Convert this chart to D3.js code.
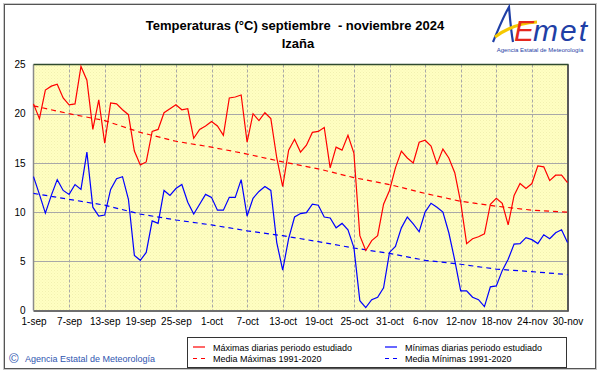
<!DOCTYPE html>
<html>
<head>
<meta charset="utf-8">
<script src="https://cdn.jsdelivr.net/npm/d3@7"></script>
<style>
  body { margin: 0; background: #fff; }
  text { font-family: Arial, "Liberation Sans", sans-serif; }
</style>
</head>
<body>
<div id="chart"></div>
<script>
// daily values, 1-sep .. 30-nov 2024
var maxDaily = [21.0, 19.5, 22.4, 22.8, 23.0, 21.6, 20.9, 21.0, 24.8, 23.4,
  18.4, 21.4, 17.0, 21.1, 21.0, 20.4, 19.9, 16.2, 14.8, 15.1,
  18.2, 18.4, 20.1, 20.5, 20.9, 20.4, 20.5, 17.5, 18.4, 18.75,
  19.2, 18.75, 17.8, 21.6, 21.7, 21.9, 17.1, 20.0, 19.3, 20.1,
  19.5, 15.5, 12.6, 16.3, 17.4, 16.1, 16.8, 18.1, 18.2, 18.6,
  14.5, 16.6, 16.3, 17.8, 16.0, 7.6, 6.1, 7.1, 7.6, 10.8,
  12.2, 14.5, 16.2, 15.5, 15.0, 17.1, 17.3, 16.7, 14.9, 16.4,
  15.5, 14.0, 11.0, 6.8, 7.3, 7.5, 7.8, 10.8, 11.4, 10.9,
  8.7, 11.7, 12.9, 12.4, 12.9, 14.7, 14.6, 13.2, 13.75, 13.75,
  13.0];
var minDaily = [13.6, 11.8, 9.9, 11.7, 13.3, 12.2, 11.8, 12.8, 12.3, 16.1,
  10.5, 9.6, 9.7, 12.3, 13.4, 13.6, 11.3, 5.6, 5.1, 5.9,
  9.1, 8.85, 12.2, 11.7, 12.4, 12.8, 11.0, 9.8, 10.8, 11.8,
  11.5, 10.2, 10.2, 11.5, 11.5, 13.3, 9.6, 11.4, 12.1, 12.6,
  12.2, 6.9, 4.1, 7.3, 9.5, 9.85, 9.95, 10.8, 10.7, 9.5,
  9.4, 8.4, 8.85, 8.2, 6.4, 1.0, 0.3, 1.1, 1.35, 2.3,
  5.9, 6.5, 8.4, 9.5, 8.8, 8.0, 10.0, 10.9, 10.5, 10.0,
  7.9, 5.1, 2.0, 2.0, 1.35, 1.1, 0.4, 2.4, 2.5, 4.05,
  5.2, 6.75, 6.8, 7.4, 7.2, 6.8, 7.7, 7.3, 7.9, 8.2,
  6.9];

// 1991-2020 normals, read at every tick date
var tickLabels = ['1-sep', '7-sep', '13-sep', '19-sep', '25-sep', '1-oct', '7-oct', '13-oct',
  '19-oct', '25-oct', '31-oct', '6-nov', '12-nov', '18-nov', '24-nov', '30-nov'];
var meanMax = [20.8, 20.0, 19.3, 18.1, 17.2, 16.6, 15.9, 15.1, 14.4, 13.5, 12.8, 11.9, 11.1, 10.6, 10.2, 10.0];
var meanMin = [11.9, 11.3, 10.7, 9.8, 9.2, 8.7, 8.1, 7.6, 7.0, 6.35, 5.8, 5.1, 4.7, 4.2, 3.95, 3.65];
var yTicks = [0, 5, 10, 15, 20, 25];

var legendItems = [
  { label: 'Máximas diarias periodo estudiado', color: '#ff0000', dash: null },
  { label: 'Mínimas diarias periodo estudiado', color: '#0000ff', dash: null },
  { label: 'Media Máximas 1991-2020', color: '#ff0000', dash: '4,4' },
  { label: 'Media Mínimas 1991-2020', color: '#0000ff', dash: '4,4' }
];

var width = 601, height = 374,
    plot = { left: 33.5, right: 567.5, top: 64.5, bottom: 310.5 };

function dayDate(i) { return new Date(Date.UTC(2024, 8, 1 + i)); }
var tickDates = tickLabels.map(function(d, i) { return dayDate(i * 6); });

var x = d3.scaleUtc()
  .domain([dayDate(0), dayDate(90)])
  .range([plot.left, plot.right]);
var y = d3.scaleLinear()
  .domain([0, 25])
  .range([plot.bottom, plot.top]);

var svg = d3.select('#chart').append('svg')
  .attr('width', width)
  .attr('height', height);

var defs = svg.append('defs');
var pat = defs.append('pattern')
  .attr('id', 'dots')
  .attr('width', 3).attr('height', 3)
  .attr('patternUnits', 'userSpaceOnUse');
pat.append('rect').attr('width', 3).attr('height', 3).attr('fill', '#ffffc2');
pat.append('rect').attr('x', 0).attr('y', 0).attr('width', 1).attr('height', 1).attr('fill', '#f2f0b0');
pat.append('rect').attr('x', 1.5).attr('y', 1.5).attr('width', 1).attr('height', 1).attr('fill', '#f7f5b8');

// outer frame
svg.append('rect')
  .attr('x', 0).attr('y', 0).attr('width', width).attr('height', height)
  .attr('fill', '#fff');
svg.append('rect')
  .attr('x', 4.5).attr('y', 4.5).attr('width', 591).attr('height', 364)
  .attr('fill', 'none').attr('stroke', '#555').attr('stroke-width', 1);
svg.append('rect')
  .attr('x', 3.5).attr('y', 3.5).attr('width', 593).attr('height', 366)
  .attr('fill', 'none').attr('stroke', '#c8c8c8').attr('stroke-width', 1);

// title
svg.append('text')
  .attr('x', 295).attr('y', 30)
  .attr('text-anchor', 'middle')
  .attr('font-size', 13).attr('font-weight', 'bold')
  .style('white-space', 'pre')
  .text('Temperaturas (°C) septiembre  - noviembre 2024');
svg.append('text')
  .attr('x', 298).attr('y', 48)
  .attr('text-anchor', 'middle')
  .attr('font-size', 13).attr('font-weight', 'bold')
  .text('Izaña');

// logo
var logo = svg.append('g').attr('class', 'logo');
logo.append('path')
  .attr('d', 'M493,42 C498,30 503,17 509,7 C510,19 511,31 513,42')
  .attr('fill', 'none').attr('stroke', '#1f3fa6').attr('stroke-width', 2.2);
logo.append('path')
  .attr('d', 'M495,37 C507,28 520,23 537,22')
  .attr('fill', 'none').attr('stroke', '#f5c800').attr('stroke-width', 3.2);
logo.append('text')
  .attr('x', 514).attr('y', 41)
  .attr('font-size', 30).attr('font-style', 'italic')
  .attr('fill', '#e5281e')
  .text('E');
logo.append('text')
  .attr('x', 533).attr('y', 41)
  .attr('font-size', 30).attr('font-style', 'italic')
  .attr('textLength', 54)
  .attr('fill', '#1f3fa6')
  .text('met');
logo.append('text')
  .attr('x', 540).attr('y', 52)
  .attr('text-anchor', 'middle')
  .attr('font-size', 6)
  .attr('fill', '#1f3fa6')
  .text('Agencia Estatal de Meteorología');

// plot background
svg.append('rect')
  .attr('x', plot.left).attr('y', plot.top)
  .attr('width', plot.right - plot.left).attr('height', plot.bottom - plot.top)
  .attr('fill', 'url(#dots)');

// grid
svg.append('g').selectAll('line')
  .data(yTicks.slice(1, -1))
  .enter().append('line')
  .attr('x1', plot.left).attr('x2', plot.right)
  .attr('y1', function(d) { return Math.round(y(d)) + 0.5; })
  .attr('y2', function(d) { return Math.round(y(d)) + 0.5; })
  .attr('stroke', '#a8a8a8').attr('stroke-width', 1.2);
svg.append('g').selectAll('line')
  .data(tickDates.slice(1, -1))
  .enter().append('line')
  .attr('x1', function(d) { return Math.round(x(d)) + 0.5; })
  .attr('x2', function(d) { return Math.round(x(d)) + 0.5; })
  .attr('y1', plot.top).attr('y2', plot.bottom)
  .attr('stroke', '#a8a8a8').attr('stroke-width', 1)
  .attr('stroke-dasharray', '3,2');

// plot border
svg.append('line')
  .attr('x1', plot.left).attr('x2', plot.left)
  .attr('y1', plot.top).attr('y2', plot.bottom)
  .attr('stroke', '#8a8a8a').attr('stroke-width', 1.5);
svg.append('line')
  .attr('x1', plot.left).attr('x2', plot.right + 1)
  .attr('y1', plot.bottom + 0.5).attr('y2', plot.bottom + 0.5)
  .attr('stroke', '#6e6e6e').attr('stroke-width', 2);
svg.append('line')
  .attr('x1', plot.right + 0.5).attr('x2', plot.right + 0.5)
  .attr('y1', plot.top).attr('y2', plot.bottom + 1)
  .attr('stroke', '#5a5a5a').attr('stroke-width', 2);
svg.append('line')
  .attr('x1', plot.left).attr('x2', plot.right + 1)
  .attr('y1', plot.top).attr('y2', plot.top)
  .attr('stroke', '#2f4a2f').attr('stroke-width', 1.5);

// axes
var yAxis = svg.append('g')
  .attr('transform', 'translate(' + plot.left + ',0)')
  .call(d3.axisLeft(y).tickValues(yTicks).tickSize(0).tickPadding(8));
yAxis.select('.domain').remove();
yAxis.selectAll('text').attr('font-size', 10).attr('fill', '#000')
  .attr('font-family', 'Arial, "Liberation Sans", sans-serif');

var xAxis = svg.append('g')
  .attr('transform', 'translate(0,' + plot.bottom + ')')
  .call(d3.axisBottom(x).tickValues(tickDates).tickSize(0).tickPadding(7)
    .tickFormat(function(d, i) { return tickLabels[i]; }));
xAxis.select('.domain').remove();
xAxis.selectAll('text').attr('font-size', 10).attr('fill', '#000')
  .attr('font-family', 'Arial, "Liberation Sans", sans-serif');

// series
var dailyLine = d3.line()
  .x(function(d, i) { return x(dayDate(i)); })
  .y(function(d) { return y(d); });
var meanLine = d3.line()
  .x(function(d, i) { return x(tickDates[i]); })
  .y(function(d) { return y(d); });

var lines = svg.append('g');
lines.append('path').datum(meanMin)
  .attr('d', meanLine).attr('fill', 'none')
  .attr('stroke', '#0000ff').attr('stroke-width', 1.2).attr('stroke-dasharray', '5,4');
lines.append('path').datum(meanMax)
  .attr('d', meanLine).attr('fill', 'none')
  .attr('stroke', '#ff0000').attr('stroke-width', 1.2).attr('stroke-dasharray', '5,4');
lines.append('path').datum(minDaily)
  .attr('d', dailyLine).attr('fill', 'none')
  .attr('stroke', '#0000ff').attr('stroke-width', 1.2);
lines.append('path').datum(maxDaily)
  .attr('d', dailyLine).attr('fill', 'none')
  .attr('stroke', '#ff0000').attr('stroke-width', 1.2);

// legend
var legend = svg.append('g').attr('transform', 'translate(187,337)');
legend.append('rect')
  .attr('x', 0.5).attr('y', 0.5).attr('width', 379).attr('height', 30)
  .attr('fill', '#fff').attr('stroke', '#333');
var key = legend.selectAll('.legend-key')
  .data(legendItems)
  .enter().append('g')
  .attr('class', 'legend-key')
  .attr('transform', function(d, i) {
    return 'translate(' + (6 + (i % 2) * 192) + ',' + (10 + Math.floor(i / 2) * 11.5) + ')';
  });
key.append('line')
  .attr('x1', 0).attr('x2', 12)
  .attr('stroke', function(d) { return d.color; })
  .attr('stroke-width', 1.2)
  .attr('stroke-dasharray', function(d) { return d.dash; });
key.append('text')
  .attr('x', 20).attr('y', 3.5)
  .attr('font-size', 9)
  .attr('fill', '#000')
  .text(function(d) { return d.label; });

// footer
svg.append('text')
  .attr('x', 9).attr('y', 363)
  .attr('font-size', 13)
  .attr('fill', '#2f55b0')
  .text('©');
svg.append('text')
  .attr('x', 25).attr('y', 362)
  .attr('font-size', 9)
  .attr('fill', '#2f55b0')
  .text('Agencia Estatal de Meteorología');
</script>
</body>
</html>
